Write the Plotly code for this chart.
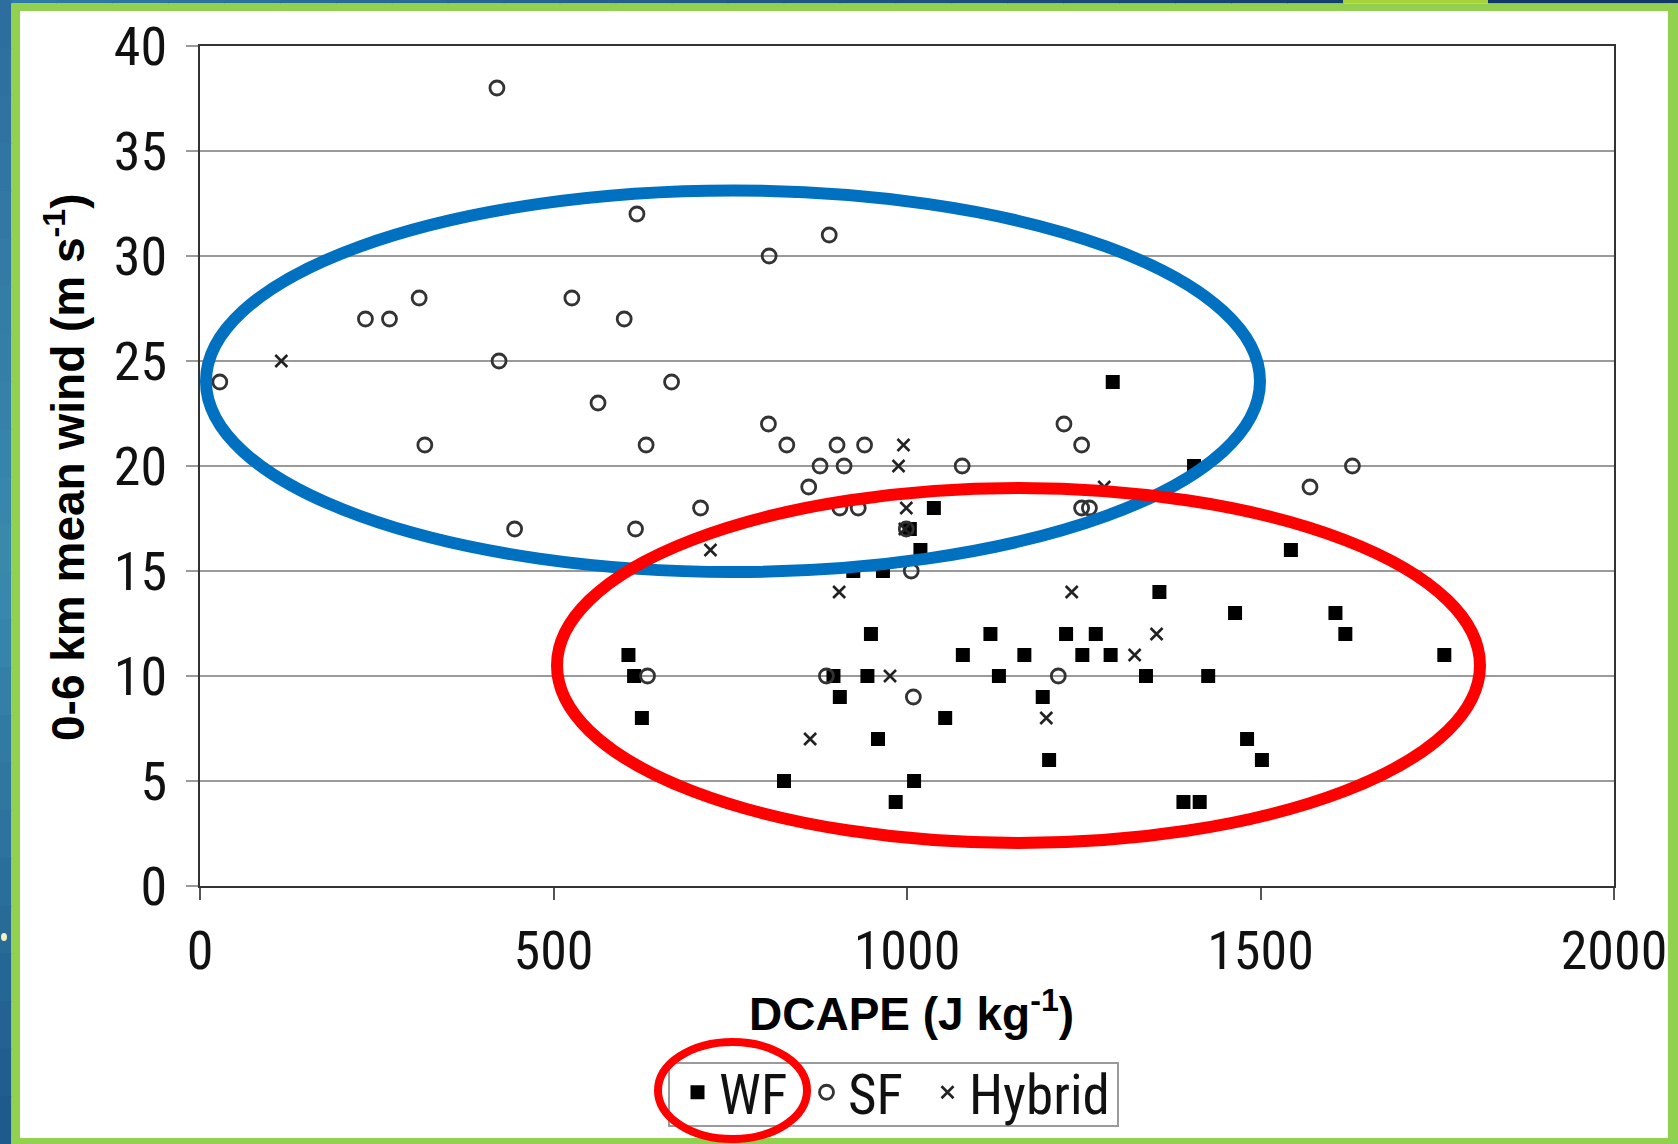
import plotly.graph_objects as go

# ---------------- data ----------------
wf_x = [1291, 1406, 1038, 1004, 1019, 1543, 924, 966, 1357, 1464, 1606, 949, 1118, 1225,
        1267, 1620, 606, 1079, 1166, 1248, 1288, 1760, 614, 896, 944, 1130, 1338, 1426,
        905, 1192, 625, 1054, 959, 1481, 1201, 1502, 826, 1010, 984, 1391, 1414]
wf_y = [24, 20, 18, 17, 16, 16, 15, 15, 14, 13, 13, 12, 12, 12,
        12, 12, 11, 11, 11, 11, 11, 11, 10, 10, 10, 10, 10, 10,
        9, 9, 8, 8, 7, 7, 6, 6, 5, 5, 4, 4, 4]

sf_x = [420, 618, 890, 805, 310, 526, 234, 268, 600, 423, 28, 667, 563, 804, 1222,
        318, 631, 830, 901, 940, 1247, 877, 911, 1078, 1630, 861, 1570, 708, 905, 931,
        1247, 1258, 445, 616, 999, 1006, 633, 886, 1214, 1009]
sf_y = [38, 32, 31, 30, 28, 28, 27, 27, 27, 25, 24, 24, 23, 22, 22,
        21, 21, 21, 21, 21, 21, 20, 20, 20, 20, 19, 19, 18, 18, 18,
        18, 18, 17, 17, 17, 15, 10, 10, 10, 9]

hy_x = [115, 995, 988, 999, 997, 1279, 722, 904, 1233, 1353, 1322, 976, 1197, 863]
hy_y = [25, 21, 20, 18, 17, 19, 16, 14, 14, 12, 11, 10, 8, 7]

series_names = ["WF", "SF", "Hybrid"]
x_ticks = [0, 500, 1000, 1500, 2000]
y_ticks = [0, 5, 10, 15, 20, 25, 30, 35, 40]

# ---------------- figure ----------------
W, H = 1678, 1144
L, R, T, B = 200, 64, 46, 258
PW, PH = W - L - R, H - T - B


def xp(px):
    return (px - L) / PW


def yp(py):
    return (H - B - py) / PH


NARROW = "Liberation Sans Narrow, Arial Narrow, Roboto Condensed, Liberation Sans, Arial, sans-serif"
SANS = "Liberation Sans, Arial, Helvetica, sans-serif"

fig = go.Figure()
fig.add_trace(go.Scatter(
    x=wf_x, y=wf_y, mode="markers", name=series_names[0], legend="legend",
    marker=dict(symbol="square", size=14, color="black", line=dict(width=0)),
))
fig.add_trace(go.Scatter(
    x=sf_x, y=sf_y, mode="markers", name=series_names[1], legend="legend2",
    marker=dict(symbol="circle-open", size=14, color="#333333", line=dict(width=2.8, color="#333333")),
))
fig.add_trace(go.Scatter(
    x=hy_x, y=hy_y, mode="markers", name=series_names[2], legend="legend3",
    marker=dict(symbol="x-thin-open", size=12, color="#222222", line=dict(width=2.6, color="#222222")),
))

shapes = []


def rect(x0, y0, x1, y1, color):
    shapes.append(dict(type="rect", xref="paper", yref="paper",
                       x0=xp(x0), x1=xp(x1), y0=yp(y1), y1=yp(y0),
                       fillcolor=color, line=dict(width=0), layer="above"))


def lerp(c1, c2, t):
    return "rgb(%d,%d,%d)" % tuple(round(a + (b - a) * t) for a, b in zip(c1, c2))


# frame: top gradient strip
n = 24
c_left, c_right = (46, 122, 166), (20, 62, 112)
for i in range(n):
    x0 = 1343 * i / n
    x1 = 1343 * (i + 1) / n + 1
    rect(x0, 0, x1, 3.5, lerp(c_left, c_right, i / (n - 1)))
rect(1343, 0, 1488, 3.5, "#A8D13A")
rect(1488, 0, W, 3.5, "#113668")
# left gradient strip
c_top, c_mid, c_bot = (46, 110, 158), (58, 138, 172), (30, 90, 140)
for i in range(n):
    y0 = H * i / n
    y1 = H * (i + 1) / n + 1
    t = i / (n - 1)
    col = lerp(c_top, c_mid, t * 2) if t < 0.5 else lerp(c_mid, c_bot, (t - 0.5) * 2)
    rect(0, y0, 11.5, y1, col)
# green border
GREEN = "#92D050"
rect(11.5, 3.5, W, 11, GREEN)
rect(11.5, 3.5, 20, H, GREEN)
rect(1668, 3.5, W, H, GREEN)
rect(11.5, 1138, W, H, GREEN)
shapes.append(dict(type="circle", xref="paper", yref="paper",
                   x0=xp(1), x1=xp(7), y0=yp(941), y1=yp(933),
                   fillcolor="#F4F0C0", line=dict(width=0), layer="above"))

# legend box
shapes.append(dict(type="rect", xref="paper", yref="paper",
                   x0=xp(669), x1=xp(1118), y0=yp(1126), y1=yp(1063),
                   line=dict(color="#9a9a9a", width=2), fillcolor="rgba(0,0,0,0)", layer="above"))

# highlight ellipses
shapes.append(dict(type="circle", xref="paper", yref="paper",
                   x0=xp(206), x1=xp(1260), y0=yp(572), y1=yp(190.5),
                   line=dict(color="#0070C0", width=12), layer="above"))
shapes.append(dict(type="circle", xref="paper", yref="paper",
                   x0=xp(557), x1=xp(1480), y0=yp(843), y1=yp(488),
                   line=dict(color="#FF0000", width=12), layer="above"))
shapes.append(dict(type="circle", xref="paper", yref="paper",
                   x0=xp(658), x1=xp(807), y0=yp(1139), y1=yp(1042),
                   line=dict(color="#FF0000", width=8), layer="above"))

annotations = [
    dict(text="<b>0-6 km mean wind (m s<sup>-1</sup>)</b>", xref="paper", yref="paper",
         x=xp(65), y=yp(467), textangle=-90, showarrow=False,
         xanchor="center", yanchor="middle", font=dict(family=SANS, size=46, color="black")),
    dict(text="<b>DCAPE (J kg<sup>-1</sup>)</b>", xref="paper", yref="paper",
         x=xp(912), y=yp(1011), showarrow=False,
         xanchor="center", yanchor="middle", font=dict(family=SANS, size=46, color="black")),
]


def legend_at(px):
    return dict(orientation="h", x=xp(px), y=yp(1050), xanchor="left", yanchor="top",
                bgcolor="rgba(255,255,255,0)", borderwidth=0,
                font=dict(family=NARROW, size=55, color="#111111"),
                itemwidth=33, tracegroupgap=0)


fig.update_layout(
    width=W, height=H, autosize=False,
    margin=dict(l=L, r=R, t=T, b=B, pad=0, autoexpand=False),
    paper_bgcolor="white", plot_bgcolor="white",
    font=dict(family=NARROW, color="#111111"),
    shapes=shapes, annotations=annotations,
    showlegend=True,
    legend=legend_at(676),
    legend2=legend_at(805),
    legend3=legend_at(926),
)
fig.update_xaxes(
    range=[0, 2000], tickvals=x_ticks, ticktext=[str(v) for v in x_ticks],
    showgrid=False, zeroline=False,
    showline=True, linecolor="#333333", linewidth=2, mirror=True,
    ticks="outside", ticklen=12, tickwidth=1.5, tickcolor="#555555",
    tickfont=dict(family=NARROW, size=54, color="#111111"), ticklabelstandoff=4,
)
fig.update_yaxes(
    range=[0, 40], tickvals=y_ticks, ticktext=[str(v) for v in y_ticks],
    showgrid=True, gridcolor="#9a9a9a", gridwidth=2, zeroline=False,
    showline=True, linecolor="#333333", linewidth=2, mirror=True,
    ticks="outside", ticklen=12, tickwidth=1.5, tickcolor="#9a9a9a",
    tickfont=dict(family=NARROW, size=54, color="#111111"), ticklabelstandoff=8,
)

fig.write_html("out.html",
               config={"displayModeBar": False},
               post_script="document.body.style.margin='0';document.body.style.overflow='hidden';")
